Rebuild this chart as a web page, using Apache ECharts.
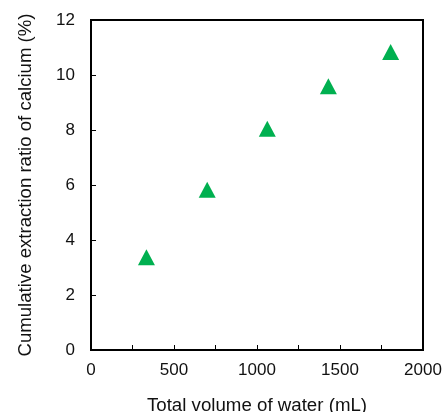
<!DOCTYPE html>
<html><head><meta charset="utf-8">
<script src="https://cdn.jsdelivr.net/npm/echarts@6/dist/echarts.min.js"></script>
<style>html,body{margin:0;padding:0;background:#fff}#c{width:445px;height:412px}</style>
</head><body><div id="c"></div>
<script>
const volume = [334, 700, 1062, 1430, 1805];
const extraction = [3.37, 5.83, 8.05, 9.59, 10.84];
const xTitle = 'Total volume of water (mL)';
const yTitle = 'Cumulative extraction ratio of calcium (%)';
const font = 'Liberation Sans, Arial, sans-serif';
const chart = echarts.init(document.getElementById('c'));
chart.setOption({
  animation: false,
  grid: {left: 91, right: 22, top: 20, bottom: 62, show: true, borderColor: '#000', borderWidth: 2,
    containLabel: false, outerBoundsMode: 'none'},
  xAxis: {
    type: 'value', min: 0, max: 2000, interval: 250,
    name: xTitle, nameLocation: 'middle', nameGap: 46,
    nameTextStyle: {fontFamily: font, fontSize: 18.7, color: '#111'},
    axisLine: {lineStyle: {color: '#000', width: 2}},
    axisTick: {inside: true, length: 5, lineStyle: {color: '#000', width: 1}},
    axisLabel: {fontFamily: font, fontSize: 17, color: '#111', margin: 12,
      formatter: v => (v % 500 === 0 ? String(v) : '')},
    splitLine: {show: false}
  },
  yAxis: {
    type: 'value', min: 0, max: 12, interval: 2,
    name: yTitle, nameLocation: 'middle', nameGap: 56,
    nameTextStyle: {fontFamily: font, fontSize: 18.6, color: '#111'},
    axisLine: {lineStyle: {color: '#000', width: 2}},
    axisTick: {inside: true, length: 5, lineStyle: {color: '#000', width: 1}},
    axisLabel: {fontFamily: font, fontSize: 17, color: '#111', margin: 16},
    splitLine: {show: false}
  },
  series: [{
    type: 'scatter',
    data: volume.map((v, i) => [v, extraction[i]]),
    symbol: 'triangle', symbolSize: [17, 16],
    itemStyle: {color: '#00B050', opacity: 1}
  }]
});
</script></body></html>
